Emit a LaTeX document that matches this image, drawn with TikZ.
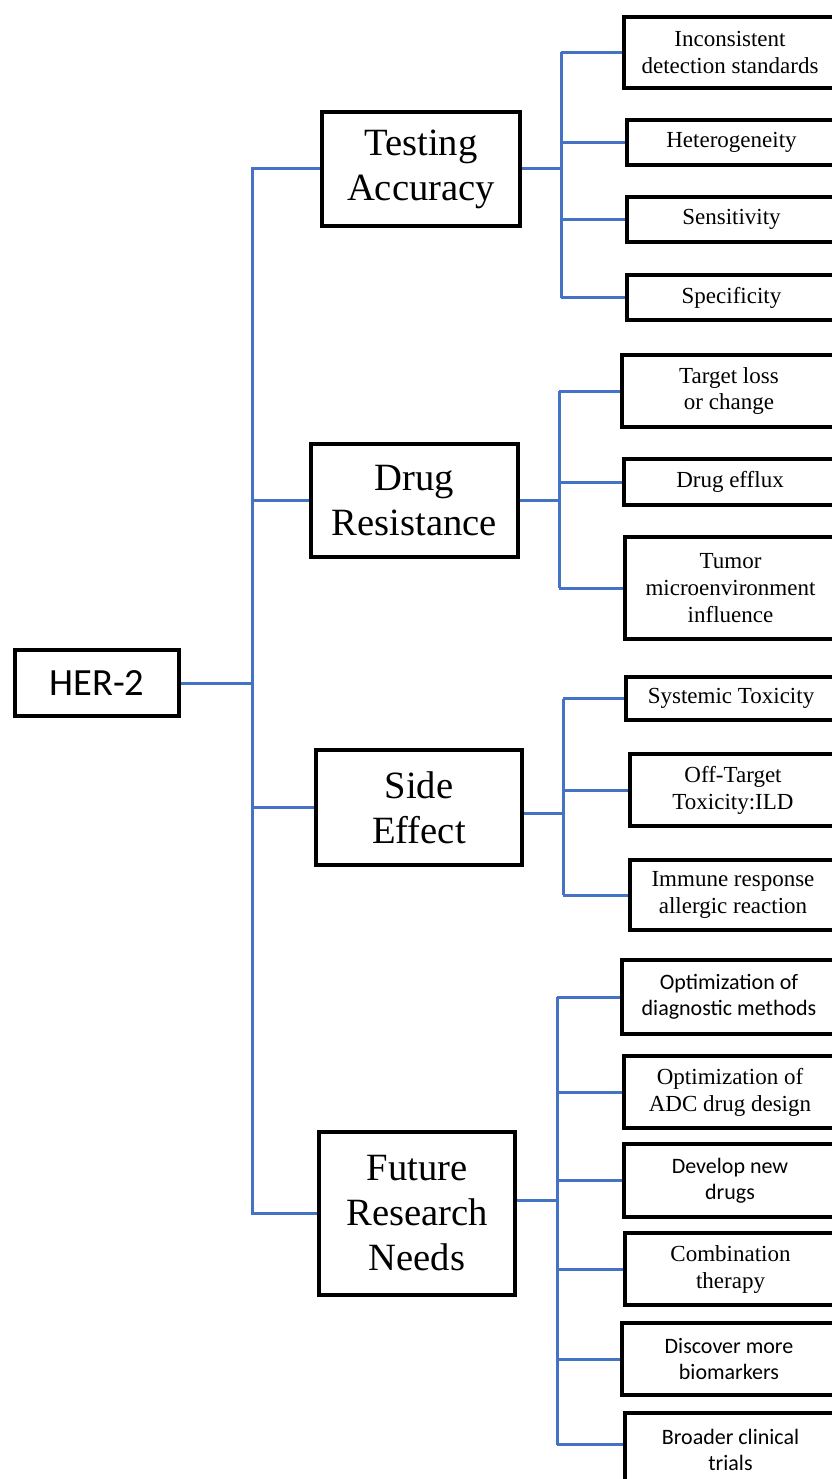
\documentclass[tikz,border=0pt]{standalone}
\usepackage{fontspec}
\setmainfont{Liberation Serif}
\newfontfamily\carlito{Carlito}
\definecolor{linkblue}{RGB}{68,114,196}

\begin{document}
\begin{tikzpicture}[x=1pt, y=-1pt, every node/.style={align=center},
  box/.style={draw, line width=4pt, anchor=north west, inner sep=2pt},
  cat/.style={box, font=\fontsize{38.6}{45}\selectfont},
  leaf/.style={box, font=\fontsize{23}{27}\selectfont},
  sleaf/.style={box, font=\carlito\fontsize{22}{26}\selectfont},
  link/.style={draw=linkblue, line width=3pt}]
\useasboundingbox (0,0) rectangle (831,1479);

\node (her) [box, font=\carlito\fontsize{38.5}{45}\selectfont, minimum width=164pt, minimum height=66pt] at (13,648) {HER-2};

\node (ta) [cat, minimum width=198pt, minimum height=114pt] at (320,110) {Testing\\Accuracy};
\node (dr) [cat, minimum width=207pt, minimum height=113pt] at (309,442) {Drug\\Resistance};
\node (se) [cat, minimum width=206pt, minimum height=115pt] at (314,748) {Side\\Effect};
\node (fr) [cat, minimum width=196pt, minimum height=163pt] at (317,1130) {Future\\Research\\Needs};

\node (a1) [leaf, minimum width=212pt, minimum height=71pt] at (622,15) {Inconsistent\\detection standards};
\node (a2) [leaf, minimum width=209pt, minimum height=45pt] at (625,118) {Heterogeneity};
\node (a3) [leaf, minimum width=209pt, minimum height=45pt] at (625,195) {Sensitivity};
\node (a4) [leaf, minimum width=209pt, minimum height=45pt] at (625,273) {Specificity};

\node (b1) [leaf, minimum width=214pt, minimum height=72pt] at (620,353) {Target loss\\or change};
\node (b2) [leaf, minimum width=212pt, minimum height=46pt] at (622,457) {Drug efflux};
\node (b3) [leaf, minimum width=211pt, minimum height=102pt] at (623,535) {Tumor\\microenvironment\\influence};

\node (c1) [leaf, minimum width=210pt, minimum height=43pt] at (624,675) {Systemic Toxicity};
\node (c2) [leaf, minimum width=206pt, minimum height=72pt] at (628,752) {Off-Target\\Toxicity:ILD};
\node (c3) [leaf, minimum width=206pt, minimum height=70pt] at (628,858) {Immune response\\allergic reaction};

\node (d1) [sleaf, minimum width=214pt, minimum height=74pt] at (620,958) {Optimization of\\diagnostic methods};
\node (d2) [leaf, minimum width=212pt, minimum height=72pt] at (622,1054) {Optimization of\\ADC drug design};
\node (d3) [sleaf, minimum width=212pt, minimum height=73pt] at (622,1142) {Develop new\\drugs};
\node (d4) [leaf, minimum width=211pt, minimum height=72pt] at (623,1231) {Combination\\therapy};
\node (d5) [sleaf, minimum width=214pt, minimum height=72pt] at (620,1321) {Discover more\\biomarkers};
\node (d6) [sleaf, minimum width=211pt, minimum height=73pt] at (623,1411) {Broader clinical\\trials};

\coordinate (trunk) at (252,0);
\coordinate (acomb) at (561,0);
\coordinate (bcomb) at (559,0);
\coordinate (ccomb) at (563,0);
\coordinate (dcomb) at (557,0);

\draw[link] (her.east) -- (her.east -| trunk);
\draw[link] (ta.west) -- (ta.west -| trunk) -- (fr.west -| trunk) -- (fr.west);
\draw[link] (dr.west) -- (dr.west -| trunk);
\draw[link] (se.west) -- (se.west -| trunk);

\draw[link] (ta.east) -- (ta.east -| acomb);
\draw[link] (a1.west -| acomb) -- (a4.west -| acomb);
\foreach \n in {a1,a2,a3,a4} \draw[link] (\n.west) -- (\n.west -| acomb);

\draw[link] (dr.east) -- (dr.east -| bcomb);
\draw[link] (b1.west -| bcomb) -- (b3.west -| bcomb);
\foreach \n in {b1,b2,b3} \draw[link] (\n.west) -- (\n.west -| bcomb);

\draw[link] ([yshift=-6pt]se.east) -- ([yshift=-6pt]se.east -| ccomb);
\draw[link] (c1.west -| ccomb) -- (c3.west -| ccomb);
\foreach \n in {c1,c2,c3} \draw[link] (\n.west) -- (\n.west -| ccomb);

\draw[link] ([yshift=13pt]fr.east) -- ([yshift=13pt]fr.east -| dcomb);
\draw[link] (d1.west -| dcomb) -- ([yshift=5pt]d6.west -| dcomb);
\foreach \n in {d1,d2,d3,d4,d5} \draw[link] (\n.west) -- (\n.west -| dcomb);
\draw[link] ([yshift=5pt]d6.west) -- ([yshift=5pt]d6.west -| dcomb);
\end{tikzpicture}
\end{document}
